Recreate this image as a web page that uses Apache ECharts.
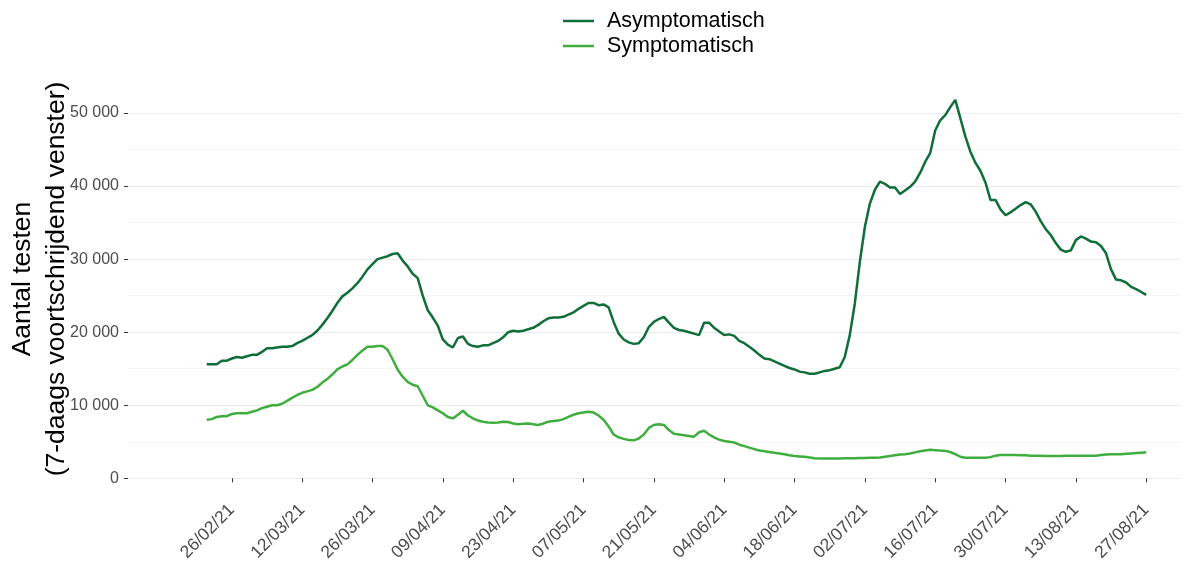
<!DOCTYPE html>
<html>
<head>
<meta charset="utf-8">
<script src="https://cdn.jsdelivr.net/npm/echarts@6/dist/echarts.min.js"></script>
<style>
html,body{margin:0;padding:0;background:#fff;}
#chart{width:1185px;height:573px;}
</style>
</head>
<body>
<div id="chart"></div>
<script>
// First date of the series (21/02/2021), one value per day until 27/08/2021
const startDate = [2021, 1, 21];
const dayCount = 188;

const tickLabels = ['26/02/21','12/03/21','26/03/21','09/04/21','23/04/21','07/05/21','21/05/21',
  '04/06/21','18/06/21','02/07/21','16/07/21','30/07/21','13/08/21','27/08/21'];

const yTicks = [0, 10000, 20000, 30000, 40000, 50000];

const seriesNames = ['Asymptomatisch', 'Symptomatisch'];

const asymptomatisch = [
15600,15600,15600,16100,16100,16400,16600,16500,16700,16900,
16900,17300,17800,17800,17900,18000,18000,18100,18500,18800,
19200,19600,20200,21000,21900,22900,24000,24900,25400,26000,
26700,27600,28600,29300,30000,30200,30400,30700,30800,29800,
29000,28000,27400,25000,23000,22000,20900,19000,18300,17900,
19200,19400,18400,18100,18000,18200,18200,18500,18800,19300,
20000,20200,20100,20200,20400,20600,21000,21500,21900,22000,
22000,22100,22400,22700,23200,23600,24000,24000,23700,23800,
23400,21400,19800,19000,18600,18400,18500,19300,20700,21400,
21800,22100,21300,20600,20300,20200,20000,19800,19600,21300,
21300,20600,20100,19600,19700,19500,18800,18500,18000,17500,
16900,16400,16300,16000,15700,15400,15100,14900,14600,14500,
14300,14300,14500,14700,14800,15000,15200,16600,19600,23900,
29600,34400,37600,39500,40600,40300,39800,39800,38900,39400,
39900,40600,41800,43300,44500,47600,49000,49700,50800,51800,
49300,46800,44700,43200,42100,40500,38100,38100,36800,36000,
36400,36900,37400,37800,37500,36500,35200,34100,33300,32200,
31300,31000,31200,32600,33100,32800,32400,32300,31800,30800,
28600,27200,27100,26800,26200,25900,25500,25100
];

const symptomatisch = [
8000,8100,8400,8500,8500,8800,8900,8900,8900,9100,
9300,9600,9800,10000,10000,10200,10600,11000,11400,11700,
11900,12100,12500,13100,13600,14200,14900,15300,15600,16200,
16900,17500,18000,18000,18100,18100,17600,16300,14900,13900,
13200,12800,12600,11300,10000,9700,9300,8900,8400,8200,
8700,9250,8600,8200,7900,7750,7650,7600,7650,7750,
7700,7500,7400,7450,7500,7400,7300,7500,7750,7850,
7900,8100,8400,8700,8900,9000,9100,9000,8600,8000,
7100,6000,5600,5400,5250,5200,5450,6000,6900,7300,
7400,7300,6600,6100,6000,5900,5800,5700,6300,6500,
6000,5600,5300,5100,5000,4900,4600,4400,4200,4000,
3800,3700,3600,3500,3400,3300,3150,3050,3000,2950,
2850,2750,2700,2700,2700,2700,2720,2730,2740,2750,
2770,2780,2800,2800,2850,2950,3050,3150,3250,3300,
3400,3550,3700,3800,3900,3850,3800,3750,3600,3300,
2950,2800,2800,2800,2800,2800,2900,3100,3200,3200,
3200,3200,3150,3150,3100,3100,3100,3050,3050,3050,
3050,3100,3100,3100,3100,3100,3100,3100,3200,3250,
3300,3300,3300,3350,3400,3450,3500,3550
];

function pad(n){ return (n < 10 ? '0' : '') + n; }
const categories = [];
for (let i = 0; i < dayCount; i++) {
  const d = new Date(Date.UTC(startDate[0], startDate[1], startDate[2] + i));
  categories.push(pad(d.getUTCDate()) + '/' + pad(d.getUTCMonth() + 1) + '/' + String(d.getUTCFullYear()).slice(2));
}

const FONT = "'Liberation Sans', Arial, sans-serif";
const colors = ['#0f6e39', '#3fae3f'];

function fmtThousands(v){
  return String(v).replace(/\B(?=(\d{3})+(?!\d))/g, ' ');
}

const chart = echarts.init(document.getElementById('chart'), null, {renderer: 'canvas'});
const GRID_TOP = 113, GRID_BOTTOM = 94.7;
chart.setOption({
  animation: false,
  backgroundColor: '#ffffff',
  textStyle: {fontFamily: FONT},
  color: colors,
  legend: {
    orient: 'vertical',
    left: 563,
    top: 8.5,
    padding: 0,
    icon: 'rect',
    itemWidth: 31,
    itemHeight: 2.5,
    itemGap: 0,
    data: seriesNames,
    textStyle: {fontSize: 21.5, color: '#000', lineHeight: 25, fontFamily: FONT, padding: [0, 0, 0, 8]}
  },
  graphic: [{
    type: 'text',
    x: 40,
    y: 279,
    rotation: Math.PI / 2,
    style: {
      text: 'Aantal testen\n(7-daags voortschrijdend venster)',
      fontSize: 26.5,
      lineHeight: 34,
      fontFamily: FONT,
      fill: '#000',
      align: 'center',
      verticalAlign: 'middle'
    }
  }],
  grid: [
    {left: 128, right: 5, top: GRID_TOP, bottom: GRID_BOTTOM, containLabel: false},
    {left: 206.7, right: 38.8, top: GRID_TOP, bottom: GRID_BOTTOM, containLabel: false}
  ],
  xAxis: [
    {gridIndex: 0, type: 'value', min: 0, max: 1, show: false},
    {
      gridIndex: 1,
      type: 'category',
      data: categories,
      boundaryGap: false,
      offset: 19,
      axisLine: {show: false},
      axisTick: {
        show: true,
        length: 4,
        interval: function(idx, val){ return tickLabels.indexOf(val) >= 0; },
        lineStyle: {color: '#333333', width: 1}
      },
      axisLabel: {
        interval: function(idx, val){ return tickLabels.indexOf(val) >= 0; },
        rotate: 45,
        margin: 10,
        fontSize: 17.5,
        color: '#4d4d4d',
        fontFamily: FONT
      },
      splitLine: {show: false}
    }
  ],
  yAxis: [
    {
      gridIndex: 0,
      type: 'value',
      min: yTicks[0],
      max: yTicks[yTicks.length - 1],
      interval: yTicks[1] - yTicks[0],
      axisLine: {show: false},
      axisTick: {show: true, length: 4, lineStyle: {color: '#333333'}},
      axisLabel: {
        margin: 9,
        fontSize: 16,
        color: '#4d4d4d',
        fontFamily: FONT,
        formatter: fmtThousands
      },
      splitLine: {show: true, lineStyle: {color: '#ebebeb', width: 1}},
      minorTick: {show: false, splitNumber: 2},
      minorSplitLine: {show: true, lineStyle: {color: '#f5f5f5', width: 1}}
    },
    {
      gridIndex: 1,
      type: 'value',
      min: yTicks[0],
      max: yTicks[yTicks.length - 1],
      show: false,
      splitLine: {show: false}
    }
  ],
  series: [
    {
      name: seriesNames[0],
      type: 'line',
      xAxisIndex: 1,
      yAxisIndex: 1,
      data: asymptomatisch,
      showSymbol: false,
      symbol: 'none',
      clip: false,
      lineStyle: {width: 2.5, color: colors[0]},
      itemStyle: {color: colors[0]}
    },
    {
      name: seriesNames[1],
      type: 'line',
      xAxisIndex: 1,
      yAxisIndex: 1,
      data: symptomatisch,
      showSymbol: false,
      symbol: 'none',
      clip: false,
      lineStyle: {width: 2.5, color: colors[1]},
      itemStyle: {color: colors[1]}
    }
  ]
});
</script>
</body>
</html>
